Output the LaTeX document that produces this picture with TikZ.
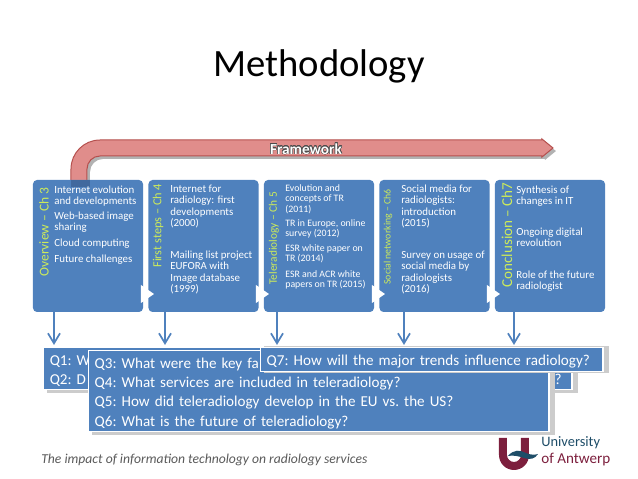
\documentclass[tikz,border=0pt]{standalone}
\usepackage{fontspec}
\setmainfont{Carlito}
\usepackage[copies]{contour}
\usepackage{tikz}
\usetikzlibrary{arrows.meta, positioning}

\definecolor{boxblue}{HTML}{4F81BD}
\definecolor{patchblue}{HTML}{41699E}
\definecolor{chlabel}{HTML}{CDEB5A}
\definecolor{barred}{HTML}{E08D8B}
\definecolor{bardark}{HTML}{B5504E}
\definecolor{footgray}{HTML}{595959}
\definecolor{uared}{HTML}{7C1F3D}
\definecolor{uateal}{HTML}{1E4D68}

\newcommand{\qtop}{\rule{0pt}{8.1pt}}

\tikzset{
  chbox/.style={rectangle, rounded corners=0.8mm, fill=boxblue, minimum width=22mm, minimum height=26.4mm, inner sep=0pt},
  chtitle/.style={rotate=90, anchor=west, inner sep=0pt, text=chlabel},
  chtext/.style={anchor=north west, inner sep=0pt, yshift=-0.3mm, align=left, text=white, font=\fontsize{6.2}{6.5}\selectfont},
  chsmall/.style={chtext, font=\fontsize{5.6}{5.8}\selectfont},
  qshadow/.style={fill=black!20},
  qbox/.style={rectangle, fill=boxblue, draw=white, line width=0.3mm, anchor=north west, inner sep=0pt, inner xsep=1.2mm, align=left, text=white,
    font=\frenchspacing\fontsize{8.6}{11}\selectfont},
  downarrow/.style={draw=boxblue, line width=0.35mm, -{Straight Barb[length=2mm, width=2.4mm]}}
}

\begin{document}
\begin{tikzpicture}[x=0.2mm, y=-0.2mm]
  \useasboundingbox (0,0) rectangle (638,479);
  \node[inner sep=0pt, font=\fontsize{22}{24}\selectfont] (title) at (319,66) {Methodology};

  % bent bar
  \fill[black!30] (74,184) -- (74,172) arc[start angle=180, end angle=270, radius=29] -- (545,143) -- (556,151) -- (545,160) -- (545,159) -- (103,159) arc[start angle=270, end angle=180, radius=13] -- (90,184) -- cycle;
  \draw[bardark, fill=barred, line width=0.2mm] (71,182) -- (71,169) arc[start angle=180, end angle=270, radius=29] -- (542,140) -- (542,139) -- (553,148) -- (542,157) -- (542,156) -- (100,156) arc[start angle=270, end angle=180, radius=13] -- (87,182) -- cycle;
  \node[inner sep=0pt, text=white, font=\fontsize{8.7}{9}\selectfont\bfseries] (frame) at (306,149) {\contourlength{0.25pt}\contour{black!70}{Framework}};

  % chapter boxes
  \node[chbox] (ovw) at (88,246) {};
  \node[chbox] (first) at (203.5,246) {};
  \node[chbox] (tele) at (319,246) {};
  \node[chbox] (social) at (434.5,246) {};
  \node[chbox] (concl) at (550,246) {};
  \fill[patchblue] (71,180) rectangle (90,187);

  \foreach \x in {141,256,372,487}
    \fill[white] (\x,285) -- (\x+13,294) -- (\x,303) -- cycle;

  \node[chtitle, font=\fontsize{7.7}{8}\selectfont] (ovwt) at (44,277) {Overview – Ch 3};
  \node[chtitle, font=\fontsize{7}{8}\selectfont] (firstt) at (158,268) {First steps – Ch 4};
  \node[chtitle, font=\fontsize{6.5}{8}\selectfont] (telet) at (274,285) {Teleradiology – Ch 5};
  \node[chtitle, font=\fontsize{5.6}{8}\selectfont] (socialt) at (388,285) {Social networking – Ch6};
  \node[chtitle, font=\fontsize{8.6}{10}\selectfont] (conclt) at (507,288) {Conclusion – Ch7};

  \node[chtext] (a1) at (54,184) {Internet evolution\\and developments};
  \node[chtext] (a2) at (54,210) {Web-based image\\sharing};
  \node[chtext] (a3) at (54,237) {Cloud computing};
  \node[chtext] (a4) at (54,253) {Future challenges};

  \node[chtext] (b1) at (170,183) {Internet for\\radiology: first\\developments\\(2000)};
  \node[chtext] (b2) at (170,249) {Mailing list project\\EUFORA with\\Image database\\(1999)};

  \node[chsmall] (c1) at (285,183) {Evolution and\\concepts of TR\\(2011)};
  \node[chsmall] (c2) at (285,218) {TR in Europe, online\\survey  (2012)};
  \node[chsmall] (c3) at (285,243) {ESR white paper on\\TR (2014)};
  \node[chsmall] (c4) at (285,269) {ESR and ACR white\\papers on TR (2015)};

  \node[chtext] (d1) at (401,183) {Social media for\\radiologists:\\introduction\\(2015)};
  \node[chtext] (d2) at (401,249) {Survey on usage of\\social media by\\radiologists\\(2016)};

  \node[chtext] (e1) at (516,184) {Synthesis of\\changes in IT};
  \node[chtext] (e2) at (516,226) {Ongoing digital\\revolution};
  \node[chtext] (e3) at (516,269) {Role of the future\\radiologist};

  % questions
  \coordinate (h1) at (54,345);
  \coordinate (h2) at (165,345);
  \coordinate (h3) at (277,345);
  \coordinate (h4) at (404,345);
  \coordinate (h5) at (514,345);
  \draw[downarrow] (ovw.south -| h1) -- (h1);
  \draw[downarrow] (first.south -| h2) -- (h2);
  \draw[downarrow] (tele.south -| h3) -- (h3);
  \draw[downarrow] (social.south -| h4) -- (h4);
  \draw[downarrow] (concl.south -| h5) -- (h5);

  \fill[qshadow] (47,352) rectangle (578,393);
  \node[qbox, text width=103.2mm, minimum height=8.4mm] (q12) at (43,347) {\qtop Q1: W\\Q2: D\hfill s?\hspace*{0.8mm}};
  \fill[qshadow] (92,355) rectangle (555,435);
  \node[qbox, text width=89.6mm, minimum height=16.2mm] (q36) at (88,350) {\qtop Q3: What were the key fa\\Q4: What services are included in teleradiology?\\Q5: How did teleradiology develop in the EU vs. the US?\\Q6: What is the future of teleradiology?};
  \fill[qshadow] (264,346) rectangle (609,373);
  \node[qbox, text width=66mm, minimum height=4.8mm] (q7) at (260,347) {\qtop Q7: How will the major trends influence radiology?};

  % footer
  \node[anchor=west, inner sep=0pt, text=footgray, font=\fontsize{7.75}{9}\selectfont\itshape] (foot) at (41,460) {The impact of information technology on radiology services};

  % logo
  \fill[uared] (499,438) -- (507,438) -- (507,455) arc[start angle=180, end angle=0, radius=7] -- (521,438) -- (529,438) -- (529,455) arc[start angle=0, end angle=180, radius=15] -- cycle;
  \fill[uateal] (508,456) .. controls (514,449) and (520,450) .. (526,453) .. controls (530,455) and (535,455) .. (538,454) .. controls (535,459) and (530,460) .. (524,458) .. controls (518,456) and (513,455) .. (508,456) -- cycle;
  \node[anchor=west, inner sep=0pt, text=uateal, font=\fontsize{8.2}{10}\selectfont] (univ) at (541,443) {University};
  \node[anchor=west, inner sep=0pt, text=uared, font=\fontsize{8.6}{10}\selectfont] (antw) at (541,460) {of Antwerp};
\end{tikzpicture}
\end{document}
